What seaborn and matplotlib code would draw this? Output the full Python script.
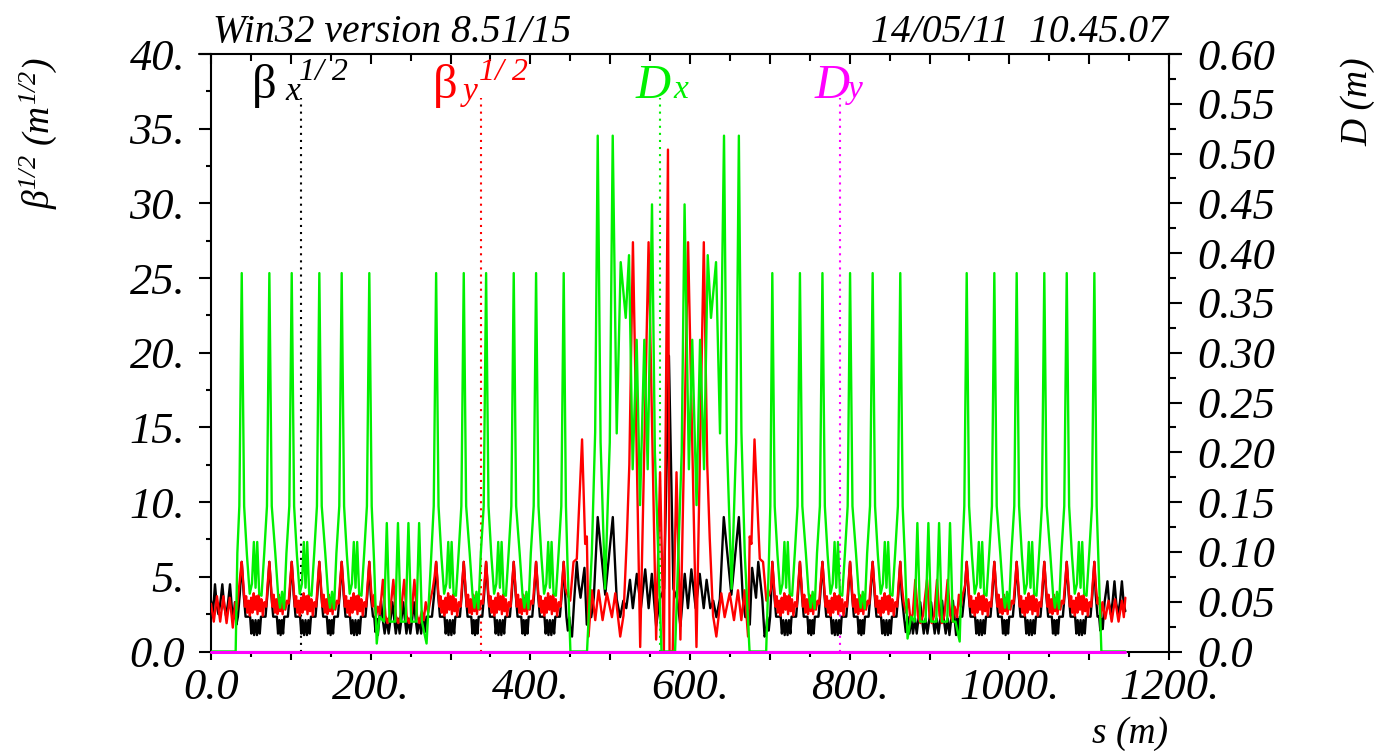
import matplotlib
matplotlib.use("Agg")
import matplotlib.pyplot as plt
from matplotlib.ticker import MultipleLocator, FuncFormatter, NullFormatter
from matplotlib.lines import Line2D
import pandas as pd
import seaborn as sns

# ---------------- lattice layout (s in metres) ----------------
# start of every arc cell (first dispersion peak), four arcs of three cells
arc_cell_starts = [
    [38.5, 101.1, 163.7],
    [282.0, 344.6, 407.2],
    [703.1, 765.9, 828.8],
    [946.6, 1009.2, 1071.9],
]
cell_second_peak = 34.6   # offset of the second peak inside a cell

# one arc cell: (offset from first peak, value)
cell_dx = [(0.0, 0.380), (3.0, 0.146), (6.5, 0.097), (10.0, 0.058), (12.8, 0.068),
           (15.2, 0.110), (17.3, 0.064), (19.4, 0.110), (21.9, 0.058), (24.8, 0.056),
           (28.2, 0.099), (31.6, 0.146), (34.6, 0.380), (37.6, 0.146), (42.0, 0.099),
           (45.5, 0.058), (48.0, 0.044), (50.5, 0.060), (53.0, 0.043), (56.0, 0.099),
           (59.6, 0.146)]
cell_bx = [(0.0, 6.0), (2.5, 3.8), (4.8, 2.33), (10.5, 2.33), (12.0, 1.2), (13.7, 2.1),
           (15.5, 1.1), (17.3, 2.1), (19.1, 1.1), (20.9, 2.1), (22.6, 1.2), (24.1, 2.33),
           (29.8, 2.33), (32.1, 3.8), (34.6, 6.0), (37.1, 3.8), (39.4, 2.33), (44.0, 2.33),
           (45.5, 1.2), (47.1, 2.1), (48.7, 1.1), (50.3, 2.1), (51.8, 1.2), (53.3, 2.33),
           (57.8, 2.33), (60.1, 3.8)]
cell_by = [(0.0, 6.0), (2.2, 4.4), (4.0, 3.0), (5.5, 3.7), (7.0, 2.6), (8.6, 3.4),
           (10.2, 2.4), (11.8, 3.6), (13.4, 2.6), (15.0, 3.9), (16.6, 2.8), (18.2, 3.7),
           (19.8, 2.5), (21.4, 3.8), (23.0, 2.7), (24.6, 3.5), (26.4, 2.4), (28.4, 3.3),
           (30.6, 3.0), (32.6, 4.6), (34.6, 6.0), (36.6, 4.4), (38.4, 3.0), (40.0, 3.8),
           (41.6, 2.6), (43.2, 3.5), (44.8, 2.5), (46.4, 3.8), (48.0, 2.7), (49.6, 3.6),
           (51.2, 2.5), (52.8, 3.5), (54.6, 2.8), (56.6, 3.4), (58.6, 3.2), (60.6, 4.6)]

# ---------------- straight sections and insertions ----------------
start_dx = [(0.0, 0.0), (30.9, 0.0), (33.0, 0.099), (35.5, 0.146)]
start_bx = [(0.0, 3.4), (2.5, 2.6), (5.0, 4.5), (7.2, 3.1), (9.3, 2.5), (11.6, 3.2),
            (14.2, 4.5), (16.5, 3.1), (18.8, 2.4), (21.2, 3.2), (23.8, 4.5), (26.0, 3.0),
            (28.2, 2.2), (30.0, 3.3), (31.8, 1.8), (33.7, 2.33), (36.0, 3.8)]
start_by = [(0.0, 3.2), (3.5, 2.0), (7.5, 3.7), (11.5, 2.0), (15.5, 3.7), (19.5, 1.9),
            (23.5, 3.6), (27.3, 1.6), (30.5, 3.3), (32.5, 2.8), (35.0, 4.2), (36.8, 5.2)]

supp_left_dx = [(201.3, 0.146), (204.3, 0.090), (207.6, 0.008), (211.0, 0.035),
                (216.7, 0.030), (220.2, 0.129), (223.7, 0.030), (230.7, 0.030),
                (234.2, 0.129), (237.7, 0.030), (243.8, 0.030), (247.3, 0.129),
                (250.8, 0.030), (257.2, 0.030), (260.7, 0.129), (264.2, 0.030),
                (270.0, 0.008), (275.5, 0.090), (279.0, 0.146)]
supp_left_bx = [(200.1, 3.8), (202.9, 2.33), (204.5, 2.33), (206.0, 1.3), (207.5, 2.2),
                (209.0, 1.1), (211.0, 2.3), (213.0, 3.4), (215.0, 2.2), (217.5, 1.2),
                (220.0, 2.2), (222.5, 1.2), (225.0, 2.2), (227.2, 3.3), (229.4, 2.2),
                (231.5, 1.2), (234.0, 2.2), (236.3, 1.2), (238.6, 2.2), (240.7, 3.3),
                (242.8, 2.2), (244.8, 1.2), (247.3, 2.2), (249.7, 1.2), (252.0, 2.2),
                (254.2, 3.3), (256.3, 2.2), (258.5, 1.2), (261.0, 2.2), (263.2, 1.2),
                (265.5, 2.33), (267.8, 1.3), (270.0, 2.33), (276.8, 2.33), (279.5, 3.8)]
supp_left_by = [(200.5, 4.2), (202.5, 3.0), (204.5, 3.8), (206.5, 2.3), (209.0, 3.0),
                (211.5, 2.5), (215.3, 4.8), (218.5, 2.4), (221.0, 1.9), (224.0, 2.4),
                (228.4, 4.8), (231.5, 2.4), (234.5, 1.9), (237.5, 2.4), (242.0, 4.8),
                (245.0, 2.4), (248.0, 1.9), (251.0, 2.4), (254.8, 4.8), (258.0, 2.4),
                (261.0, 1.9), (264.0, 2.7), (266.5, 2.1), (269.0, 3.3), (272.0, 2.6),
                (275.0, 3.5), (277.8, 4.2), (280.0, 5.0)]

insert_dx = [(444.6, 0.146), (446.5, 0.090), (450.2, 0.0), (471.0, 0.0), (477.0, 0.098),
             (481.2, 0.220), (484.4, 0.518), (488.0, 0.210), (493.6, 0.063), (499.5, 0.210),
             (503.2, 0.518), (508.2, 0.219), (513.2, 0.391), (519.5, 0.335), (523.6, 0.398),
             (528.2, 0.183), (533.2, 0.313), (537.4, 0.147), (542.8, 0.313), (547.0, 0.183),
             (552.4, 0.449), (556.0, 0.200), (564.3, 0.0), (581.3, 0.0), (589.6, 0.200),
             (593.2, 0.449), (598.6, 0.183), (602.8, 0.313), (608.2, 0.147), (612.6, 0.313),
             (617.6, 0.183), (622.2, 0.398), (626.3, 0.335), (632.6, 0.391), (637.6, 0.219),
             (642.6, 0.518), (646.2, 0.210), (652.1, 0.063), (657.8, 0.210), (661.2, 0.518),
             (664.4, 0.220), (668.6, 0.098), (674.6, 0.0), (695.4, 0.0), (698.8, 0.090),
             (700.6, 0.146)]
insert_bx = [(443.4, 4.0), (445.2, 2.33), (447.0, 1.4), (448.8, 2.3), (450.6, 1.2),
             (452.2, 1.0), (455.0, 3.5), (458.2, 6.0), (460.5, 4.5), (462.9, 3.6),
             (465.3, 4.6), (467.8, 5.6), (470.7, 1.8), (473.5, 3.0), (476.3, 2.3),
             (479.5, 3.6), (484.4, 9.0), (493.8, 3.8), (503.3, 9.0), (508.2, 3.5),
             (512.5, 2.3), (516.5, 3.4), (520.2, 2.9), (524.8, 4.8), (528.4, 2.9),
             (533.4, 5.2), (538.5, 2.9), (543.9, 5.5), (548.2, 2.9), (552.2, 5.2),
             (557.6, 1.7), (562.0, 3.5), (567.5, 4.2), (573.6, 19.8), (579.2, 4.2),
             (584.0, 3.5), (588.0, 1.7), (593.4, 5.2), (597.4, 2.9), (601.7, 5.5),
             (607.1, 2.9), (612.2, 5.2), (617.2, 2.9), (620.8, 4.8), (625.4, 2.9),
             (629.1, 3.4), (633.1, 2.3), (637.4, 3.5), (642.3, 9.0), (651.8, 3.8),
             (661.2, 9.0), (666.1, 3.6), (669.3, 2.3), (672.1, 3.0), (674.9, 1.8),
             (677.8, 5.6), (680.3, 4.6), (682.7, 3.6), (685.5, 6.0), (690.6, 3.5),
             (693.4, 1.0), (695.0, 1.2), (696.8, 2.3), (698.6, 1.4), (700.4, 2.33),
             (701.8, 4.0)]
insert_by = [(444.0, 4.2), (445.7, 3.9), (449.9, 3.4), (454.1, 6.0), (458.2, 6.2),
             (464.8, 14.2), (468.7, 7.2), (470.8, 7.7), (472.9, 1.0), (477.1, 4.1),
             (481.3, 2.1), (485.5, 4.1), (490.5, 2.1), (495.9, 3.9), (502.2, 2.3),
             (506.4, 3.9), (512.6, 1.0), (516.7, 2.4), (520.9, 7.6), (524.0, 12.5),
             (528.5, 27.4), (537.6, 0.3), (548.1, 27.4), (557.6, 0.8), (562.5, 12.0),
             (567.3, 0.0), (572.4, 33.6), (574.4, 0.0), (578.3, 0.0), (583.1, 12.0),
             (588.0, 0.8), (597.6, 27.4), (608.1, 0.3), (617.3, 27.4), (621.6, 12.5),
             (624.7, 7.6), (628.9, 2.4), (633.0, 1.0), (639.2, 3.9), (643.4, 2.3),
             (649.7, 3.9), (655.1, 2.1), (660.1, 4.1), (664.3, 2.1), (668.5, 4.1),
             (672.7, 1.0), (674.8, 7.7), (676.9, 7.2), (680.8, 14.2), (687.4, 6.2),
             (691.5, 6.0), (695.7, 3.4), (699.9, 3.9), (701.6, 4.2)]

supp_right_dx = [(866.4, 0.146), (869.4, 0.090), (872.5, 0.013), (877.0, 0.035),
                 (881.3, 0.030), (884.8, 0.129), (888.3, 0.030), (895.1, 0.030),
                 (898.6, 0.129), (902.1, 0.030), (908.5, 0.030), (912.0, 0.129),
                 (915.5, 0.030), (922.2, 0.030), (925.7, 0.129), (929.2, 0.030),
                 (932.5, 0.030), (937.8, 0.010), (940.6, 0.090), (943.6, 0.146)]
supp_right_bx = [(865.2, 3.8), (868.0, 2.33), (870.3, 1.3), (872.6, 2.33), (874.9, 1.2),
                 (877.1, 2.2), (879.3, 1.2), (881.8, 2.2), (884.0, 1.2), (886.2, 2.2),
                 (888.4, 3.3), (890.5, 2.2), (892.8, 1.2), (895.1, 2.2), (897.4, 1.2),
                 (899.9, 2.2), (902.0, 3.3), (904.2, 2.2), (906.5, 1.2), (908.9, 2.2),
                 (911.3, 1.2), (913.5, 2.2), (915.8, 3.4), (917.8, 2.2), (920.3, 1.2),
                 (922.8, 2.2), (925.0, 1.1), (927.2, 2.2), (929.3, 3.4), (931.3, 2.3),
                 (933.3, 1.1), (934.8, 2.2), (936.3, 1.3), (938.0, 2.33), (941.0, 2.33),
                 (943.8, 3.8)]
supp_right_by = [(865.0, 4.6), (867.6, 3.3), (870.6, 2.6), (873.6, 3.5), (876.1, 2.1),
                 (879.0, 2.5), (882.2, 4.8), (885.5, 2.4), (888.5, 1.9), (891.8, 2.4),
                 (896.9, 4.8), (900.0, 2.4), (902.8, 1.9), (905.8, 2.4), (909.4, 4.8),
                 (912.6, 2.4), (915.5, 1.9), (918.6, 2.4), (922.7, 4.8), (926.0, 2.4),
                 (929.0, 2.0), (931.5, 3.0), (934.5, 2.3), (936.8, 3.8), (939.2, 3.0),
                 (941.5, 3.8), (944.6, 4.4)]

end_dx = [(1109.4, 0.146), (1111.5, 0.095), (1115.3, 0.0), (1145.3, 0.0)]
end_bx = [(1108.2, 3.8), (1110.5, 2.33), (1112.5, 2.33), (1114.0, 1.4), (1115.5, 2.2),
          (1117.0, 1.5), (1119.3, 3.3), (1122.9, 4.7), (1125.0, 3.2), (1127.1, 2.5),
          (1129.3, 3.3), (1131.7, 4.7), (1134.0, 3.2), (1136.3, 2.5), (1138.6, 3.3),
          (1141.0, 4.7), (1143.3, 3.2), (1145.3, 2.7)]
end_by = [(1108.5, 4.3), (1110.5, 3.2), (1112.2, 3.6), (1114.5, 2.3), (1116.6, 3.3),
          (1120.2, 2.2), (1124.3, 3.4), (1128.2, 2.0), (1132.4, 3.5), (1136.8, 2.0),
          (1141.0, 3.4), (1143.4, 2.3), (1145.3, 3.6)]

dy_points = [(0.0, 0.0), (1145.3, 0.0)]

# positions of the curve-name leaders
leader_s = [112.8, 338.3, 562.7, 788.2]
leader_colors = ["black", "#ff0000", "#00f000", "#ff00ff"]
leader_top = 37.05


def assemble(parts, cell):
    """Join straight/insertion pieces with the repeated arc cells."""
    pts = []
    for part in parts:
        pts.extend(part)
    for starts in arc_cell_starts:
        for i, st in enumerate(starts):
            last = i == len(starts) - 1
            for off, val in cell:
                if last and off > cell_second_peak + 1e-9:
                    continue
                pts.append((st + off, val))
    pts.sort()
    return pd.DataFrame(pts, columns=["s", "value"])


betx = assemble([start_bx, supp_left_bx, insert_bx, supp_right_bx, end_bx], cell_bx)
bety = assemble([start_by, supp_left_by, insert_by, supp_right_by, end_by], cell_by)
dx = assemble([start_dx, supp_left_dx, insert_dx, supp_right_dx, end_dx], cell_dx)
dy = pd.DataFrame(dy_points, columns=["s", "value"])

# ---------------- styling ----------------
sns.set_style("ticks")
plt.rcParams["font.family"] = ["Liberation Serif", "DejaVu Serif"]
plt.rcParams["font.style"] = "italic"
plt.rcParams["mathtext.fontset"] = "custom"
plt.rcParams["mathtext.rm"] = "Liberation Serif"
plt.rcParams["mathtext.it"] = "Liberation Serif:italic"
plt.rcParams["axes.linewidth"] = 1.5
for key in ("text.color", "axes.labelcolor", "xtick.color", "ytick.color", "axes.edgecolor"):
    plt.rcParams[key] = "black"

W, H = 1383, 751


def fx(px):
    return px / W


def fy(py):
    return 1 - py / H


fig = plt.figure(figsize=(W / 100, H / 100), dpi=100)
fig.patch.set_facecolor("white")
ax = fig.add_axes([fx(211), fy(651.5), fx(1169) - fx(211), fy(54) - fy(651.5)])
ax2 = ax.twinx()

lw = 1.7
sns.lineplot(data=betx, x="s", y="value", ax=ax, color="black", lw=lw,
             sort=False, estimator=None, zorder=3)
sns.lineplot(data=bety, x="s", y="value", ax=ax, color="#ff0000", lw=lw,
             sort=False, estimator=None, zorder=4)
for s, c in zip(leader_s, leader_colors):
    ax.plot([s, s], [0, leader_top], color=c, lw=1.5, ls=(0, (1, 2.4)), zorder=2)

sns.lineplot(data=dx, x="s", y="value", ax=ax2, color="#00f000", lw=lw,
             sort=False, estimator=None, zorder=3)
sns.lineplot(data=dy, x="s", y="value", ax=ax2, color="#ff00ff", lw=2.2,
             sort=False, estimator=None, zorder=6)
ax2.lines[-1].set_clip_on(False)

ax.set_xlim(0, 1200)
ax.set_ylim(0, 40)
ax2.set_ylim(0, 0.6)
for a in (ax, ax2):
    a.set_xlabel("")
    a.set_ylabel("")
    a.spines["top"].set_visible(False)
ax.spines["right"].set_visible(False)
ax2.spines["left"].set_visible(False)
ax2.spines["bottom"].set_visible(False)

tick_font = 32
ax.yaxis.set_major_locator(MultipleLocator(5))
ax.yaxis.set_minor_locator(MultipleLocator(2.5))
ax.yaxis.set_major_formatter(FuncFormatter(lambda v, p: "0.0" if v == 0 else f"{v:.0f}."))
ax2.yaxis.set_major_locator(MultipleLocator(0.05))
ax2.yaxis.set_minor_locator(MultipleLocator(0.025))
ax2.yaxis.set_major_formatter(FuncFormatter(lambda v, p: "0.0" if abs(v) < 1e-9 else f"{v:.2f}"))
ax.xaxis.set_major_locator(MultipleLocator(100))
ax.xaxis.set_minor_locator(MultipleLocator(50))
ax.xaxis.set_major_formatter(FuncFormatter(
    lambda v, p: "" if round(v) % 200 else ("0.0" if v == 0 else f"{v:.0f}.")))

ax.tick_params(axis="y", which="major", direction="out", length=8.6, width=1.5,
               labelsize=tick_font, pad=10)
ax.tick_params(axis="y", which="minor", direction="out", length=3.6, width=1.5)
ax2.tick_params(axis="y", which="major", direction="out", length=9.4, width=1.5,
                labelsize=tick_font, pad=11)
ax2.tick_params(axis="y", which="minor", direction="out", length=5.0, width=1.5)
ax.tick_params(axis="x", which="major", direction="out", length=5.8, width=1.5,
               labelsize=tick_font, pad=6)
ax.tick_params(axis="x", which="minor", direction="out", length=3.6, width=1.5)

top = ax.secondary_xaxis("top")
top.xaxis.set_major_locator(MultipleLocator(100))
top.xaxis.set_minor_locator(MultipleLocator(50))
top.xaxis.set_major_formatter(NullFormatter())
top.tick_params(axis="x", which="major", direction="in", length=7.2, width=1.5)
top.tick_params(axis="x", which="minor", direction="in", length=5.0, width=1.5)
top.spines["top"].set_visible(False)

# frame line across the top, slightly wider than the plot box
fig.add_artist(Line2D([fx(199), fx(1181)], [fy(54), fy(54)], transform=fig.transFigure,
                      color="black", lw=1.5))

# header
fig.text(fx(213), fy(42), "Win32 version 8.51/15", fontsize=28.5, va="baseline")
fig.text(fx(1168), fy(42), "14/05/11  10.45.07", fontsize=28.5, va="baseline", ha="right")

# axis titles
fig.text(fx(38), fy(133), r"$\mathrm{β}^{\mathit{1/2}}\ \mathit{(m}^{\mathit{1/2}}\mathit{)}$",
         rotation=90, fontsize=27, ha="center", va="center")
fig.text(fx(1358), fy(102), "D (m)", rotation=90, fontsize=27, ha="center", va="center")
fig.text(fx(1168), fy(743), "s (m)", fontsize=27, ha="right", va="baseline")

# curve names
base = 98
fig.text(fx(252), fy(base), "β", fontsize=35, fontstyle="normal", color="black", va="baseline")
fig.text(fx(285), fy(base + 2), "x", fontsize=24, color="black", va="baseline")
fig.text(fx(299), fy(80), "1/ 2", fontsize=23, color="black", va="baseline")
fig.text(fx(433), fy(base), "β", fontsize=35, fontstyle="normal", color="#ff0000", va="baseline")
fig.text(fx(463), fy(base + 2), "y", fontsize=24, color="#ff0000", va="baseline")
fig.text(fx(479), fy(80), "1/ 2", fontsize=23, color="#ff0000", va="baseline")
fig.text(fx(636), fy(base), "D", fontsize=35, color="#00f000", va="baseline")
fig.text(fx(673), fy(base), "x", fontsize=24, color="#00f000", va="baseline")
fig.text(fx(815), fy(base), "D", fontsize=35, color="#ff00ff", va="baseline")
fig.text(fx(848), fy(base), "y", fontsize=24, color="#ff00ff", va="baseline")

fig.savefig("out.png", dpi=100, facecolor="white")
